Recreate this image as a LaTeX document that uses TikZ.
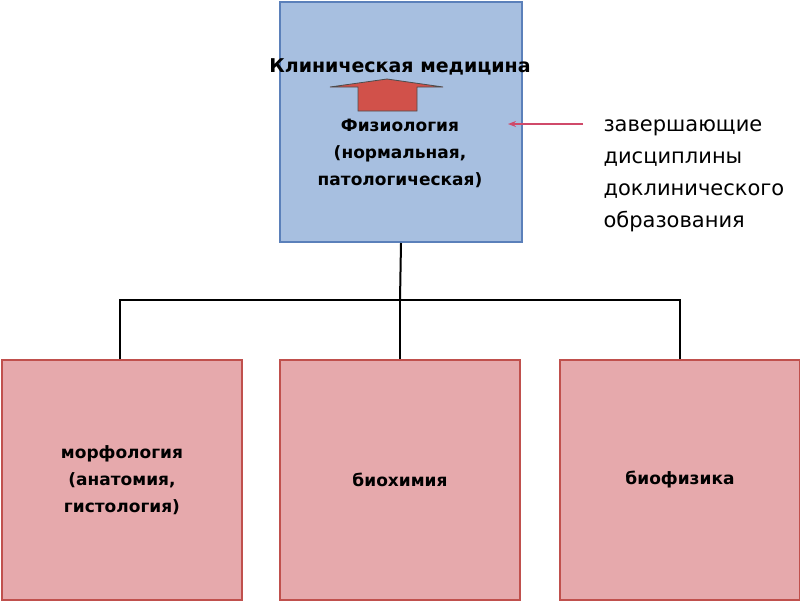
\documentclass[tikz,border=0pt]{standalone}
\usepackage{fontspec}
\usetikzlibrary{arrows.meta}
\setmainfont{DejaVu Sans}
\begin{document}
\begin{tikzpicture}[x=1pt,y=-1pt,
 topbox/.style={line width=2pt,fill=topfill,minimum width=242pt,minimum height=240pt,inner sep=0,anchor=north west},
 botbox/.style={draw=botdraw,line width=2pt,fill=botfill,minimum width=240pt,minimum height=240pt,inner sep=0,anchor=north west,font=\bfseries\fontsize{17}{27}\selectfont,align=center},
 conn/.style={line width=2pt,black}]
\definecolor{topfill}{HTML}{A7BFE0}
\definecolor{topdraw}{HTML}{5B80BA}
\definecolor{botfill}{HTML}{E6A9AC}
\definecolor{botdraw}{HTML}{C0504D}
\definecolor{arr}{HTML}{D1514A}
\definecolor{pinkarr}{HTML}{D04A6A}
\useasboundingbox (0,0) rectangle (800,600);
\node[topbox,draw=topdraw] (top) at (279,1) {};
\node[botbox] (b1) at (1,359) {морфология\\(анатомия,\\гистология)};
\node[botbox] (b2) at (279,359) {биохимия};
\node[botbox] (b3) at (559,359) {биофизика};
\node[font=\bfseries\fontsize{19}{22}\selectfont] (title) at (400,67) {Клиническая медицина};
\draw[fill=arr,draw=black!70,line width=0.8pt] (358,111) -- (358,87) -- (330,87) -- (387,79) -- (443,87) -- (417,87) -- (417,111) -- cycle;
\node[font=\bfseries\fontsize{17}{27}\selectfont,align=center] (phys) at (400,153) {Физиология\\(нормальная,\\патологическая)};
\node[font=\fontsize{21}{32}\selectfont,align=left,anchor=north west] (side) at (600,116) {завершающие\\дисциплины\\доклинического\\образования};
\coordinate (pa) at (583,124);
\coordinate (pb) at (508,124);
\draw[pinkarr,line width=2pt,-{Stealth[length=8pt]}] (pa) -- (pb);
\coordinate (j) at (400,300);
\coordinate (jl) at (120,300);
\coordinate (jr) at (680,300);
\draw[conn] (top.south) -- (j);
\draw[conn] (jl |- b1.north) -- (jl) -- (jr) -- (jr |- b3.north);
\draw[conn] (j) -- (b2.north);
\end{tikzpicture}
\end{document}
